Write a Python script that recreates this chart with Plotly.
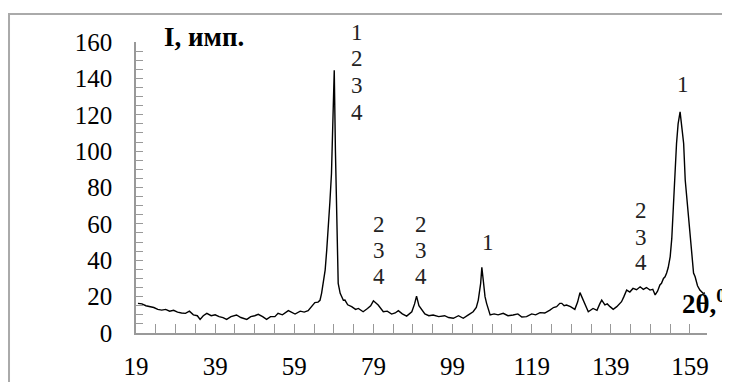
import plotly.graph_objects as go

# 2θ (degrees) and intensity (counts)
two_theta = [19.5, 20.5, 21.5, 22.5, 23.5, 24.5, 25.5, 26.5, 27.5, 28.5, 29.5, 30.5, 31.5, 32.5, 33.5, 34.5,
             35.2, 36.0, 36.9, 38.0, 39.0, 40.0, 41.0, 41.9, 43.0, 44.4, 45.5, 47.0, 48.0, 49.0, 49.9, 51.0,
             52.0, 53.0, 54.1, 54.9, 56.0, 57.5, 58.5, 59.2, 60.5, 61.5, 62.5, 63.2, 64.2, 65.0, 65.5, 65.9,
             66.3, 66.8, 67.2, 67.6, 68.0, 68.4, 68.7, 69.1, 69.4, 69.7, 70.1, 70.6, 71.4, 71.8, 72.5, 73.5,
             74.5, 75.2, 76.4, 77.5, 78.3, 79.0, 79.6, 80.2, 81.5, 82.5, 83.6, 84.5, 85.3, 86.3, 87.4, 88.7,
             89.4, 89.9, 90.5, 91.2, 92.0, 93.0, 94.1, 95.5, 97.0, 98.0, 99.2, 100.5, 101.7, 103.0, 104.2,
             105.0, 105.5, 106.1, 106.4, 106.8, 107.2, 107.6, 108.1, 108.5, 109.5, 110.5, 111.8, 113.0, 114.3,
             115.5, 116.5, 117.7, 119.0, 120.0, 121.1, 122.3, 123.6, 124.5, 125.3, 126.1, 126.6, 127.2, 127.8,
             128.8, 129.9, 130.6, 131.2, 132.0, 132.7, 133.3, 134.5, 135.5, 136.2, 136.7, 137.5, 138.1, 138.8,
             139.6, 140.5, 141.7, 142.3, 143.0, 143.8, 144.6, 145.5, 146.4, 147.2, 148.0, 148.9, 149.6, 150.2,
             150.8, 151.4, 151.8, 152.3, 152.7, 153.1, 153.5, 154.0, 154.4, 154.8, 155.2, 155.6, 156.0, 156.5,
             157.0, 157.4, 157.8, 158.3, 158.7, 159.1, 159.5, 159.9, 160.3, 160.9, 161.5, 162.3, 162.8]
intensity = [16.3, 16.0, 15.0, 14.5, 14.0, 13.0, 12.6, 13.0, 12.0, 12.5, 11.5, 11.0, 10.8, 12.0, 10.0, 9.5,
             7.5, 9.5, 10.8, 9.5, 10.0, 9.0, 8.5, 7.5, 9.0, 9.9, 8.5, 7.5, 9.0, 9.5, 10.3, 9.0,
             7.5, 9.0, 9.0, 10.8, 10.0, 12.3, 11.0, 10.4, 12.0, 11.5, 12.3, 14.0, 16.7, 17.0, 18.0, 21.8,
             29.0, 34.6, 45.6, 56.6, 72.0, 87.7, 110.0, 144.5, 100.0, 58.4, 27.3, 21.8, 18.0, 18.1, 15.5, 14.5,
             13.0, 13.5, 11.7, 13.5, 15.0, 17.7, 16.5, 15.4, 11.7, 12.0, 10.4, 11.0, 12.3, 10.5, 9.3, 11.7,
             16.0, 20.3, 15.0, 12.6, 10.5, 9.5, 9.9, 9.0, 9.5, 8.5, 8.1, 9.5, 8.1, 10.0, 11.7,
             14.0, 18.1, 27.3, 36.1, 28.2, 20.0, 16.3, 12.0, 9.9, 10.5, 10.0, 10.8, 9.5, 9.9,
             10.5, 8.8, 9.0, 10.5, 10.0, 11.2, 11.0, 12.6, 14.0, 14.5, 16.3, 16.3, 15.0, 15.4,
             14.5, 13.0, 17.0, 22.2, 18.1, 14.0, 11.7, 13.5, 12.5, 16.0, 18.1, 15.5, 16.0, 14.5,
             13.0, 14.5, 17.2, 20.0, 23.6, 22.5, 24.5, 23.8, 25.4, 24.0, 25.0, 23.6, 24.0, 20.9,
             23.0, 26.4, 27.3, 30.0, 30.9, 33.0, 36.0, 42.0, 52.0, 69.4, 87.7, 104.2, 115.0, 121.6,
             112.0, 104.2, 84.0, 72.0, 63.9, 52.0, 41.9, 33.0, 30.9, 26.0, 23.6, 21.8, 22.0]

x_ticks = [19, 39, 59, 79, 99, 119, 139, 159]
y_ticks = [0, 20, 40, 60, 80, 100, 120, 140, 160]

# peak phase labels (x in degrees, y in counts)
label_text = ["1", "2", "3", "4",
              "2", "3", "4",
              "2", "3", "4",
              "1",
              "2", "3", "4",
              "1"]
label_x = [74.8, 74.8, 74.8, 74.8,
           80.4, 80.4, 80.4,
           91.0, 91.0, 91.0,
           108.0,
           146.6, 146.6, 146.6,
           157.2]
label_y = [165.4, 151.1, 136.3, 121.4,
           59.9, 45.6, 30.8,
           59.9, 45.6, 30.8,
           50.0,
           67.6, 52.7, 38.5,
           136.8]

Y_MAX = 160
SERIF = "Liberation Serif, Times New Roman, serif"

fig = go.Figure()
fig.add_trace(go.Scatter(x=two_theta, y=intensity, mode="lines",
                         line=dict(color="black", width=1.4), showlegend=False,
                         hoverinfo="skip"))

for t, lx, ly in zip(label_text, label_x, label_y):
    fig.add_annotation(x=lx, y=ly / Y_MAX, text=t, showarrow=False, xref="x", yref="paper",
                       xanchor="center", yanchor="middle",
                       font=dict(family=SERIF, size=23, color="#222"))

# axis titles
fig.add_annotation(x=0.119, y=1.017, xref="paper", yref="paper", text="<b>I, имп.</b>",
                   showarrow=False, font=dict(family=SERIF, size=27, color="black"),
                   xanchor="center", yanchor="middle")
fig.add_annotation(x=0.953, y=0.106, xref="paper", yref="paper", text="<b>2θ,<sup>0</sup></b>",
                   showarrow=False, font=dict(family=SERIF, size=27, color="black"),
                   xanchor="left", yanchor="middle")

# outer frame (light gray border)
fig.add_shape(type="rect", xref="paper", yref="paper", x0=-0.2224, x1=1.6, y0=-0.6, y1=1.0962,
              line=dict(color="#aaaaaa", width=2), layer="below")

fig.update_layout(
    width=722, height=374,
    margin=dict(l=128, r=23, t=34, b=49),
    paper_bgcolor="white", plot_bgcolor="white",
    showlegend=False,
)
fig.update_xaxes(range=[19, 163.3], tickvals=x_ticks, ticktext=[str(v) for v in x_ticks],
                 ticks="inside", ticklen=9, tickcolor="#999999", tickwidth=1, automargin=False,
                 minor=dict(dtick=5, tick0=19, ticks="inside", ticklen=9, tickcolor="#999999"),
                 showline=True, linecolor="#999999", linewidth=1.5, showgrid=False, zeroline=False,
                 tickfont=dict(family=SERIF, size=25, color="black"), ticklabelstandoff=10)
fig.update_yaxes(range=[0, Y_MAX], tickvals=y_ticks, ticktext=[str(v) for v in y_ticks],
                 ticks="inside", ticklen=7, tickcolor="#999999", tickwidth=1, automargin=False,
                 minor=dict(dtick=5, tick0=0, ticks="inside", ticklen=7, tickcolor="#999999"),
                 showline=True, linecolor="#999999", linewidth=1.5, showgrid=False, zeroline=False,
                 tickfont=dict(family=SERIF, size=25, color="black"), ticklabelstandoff=17)

fig.write_html("out.html", config={"displayModeBar": False})
